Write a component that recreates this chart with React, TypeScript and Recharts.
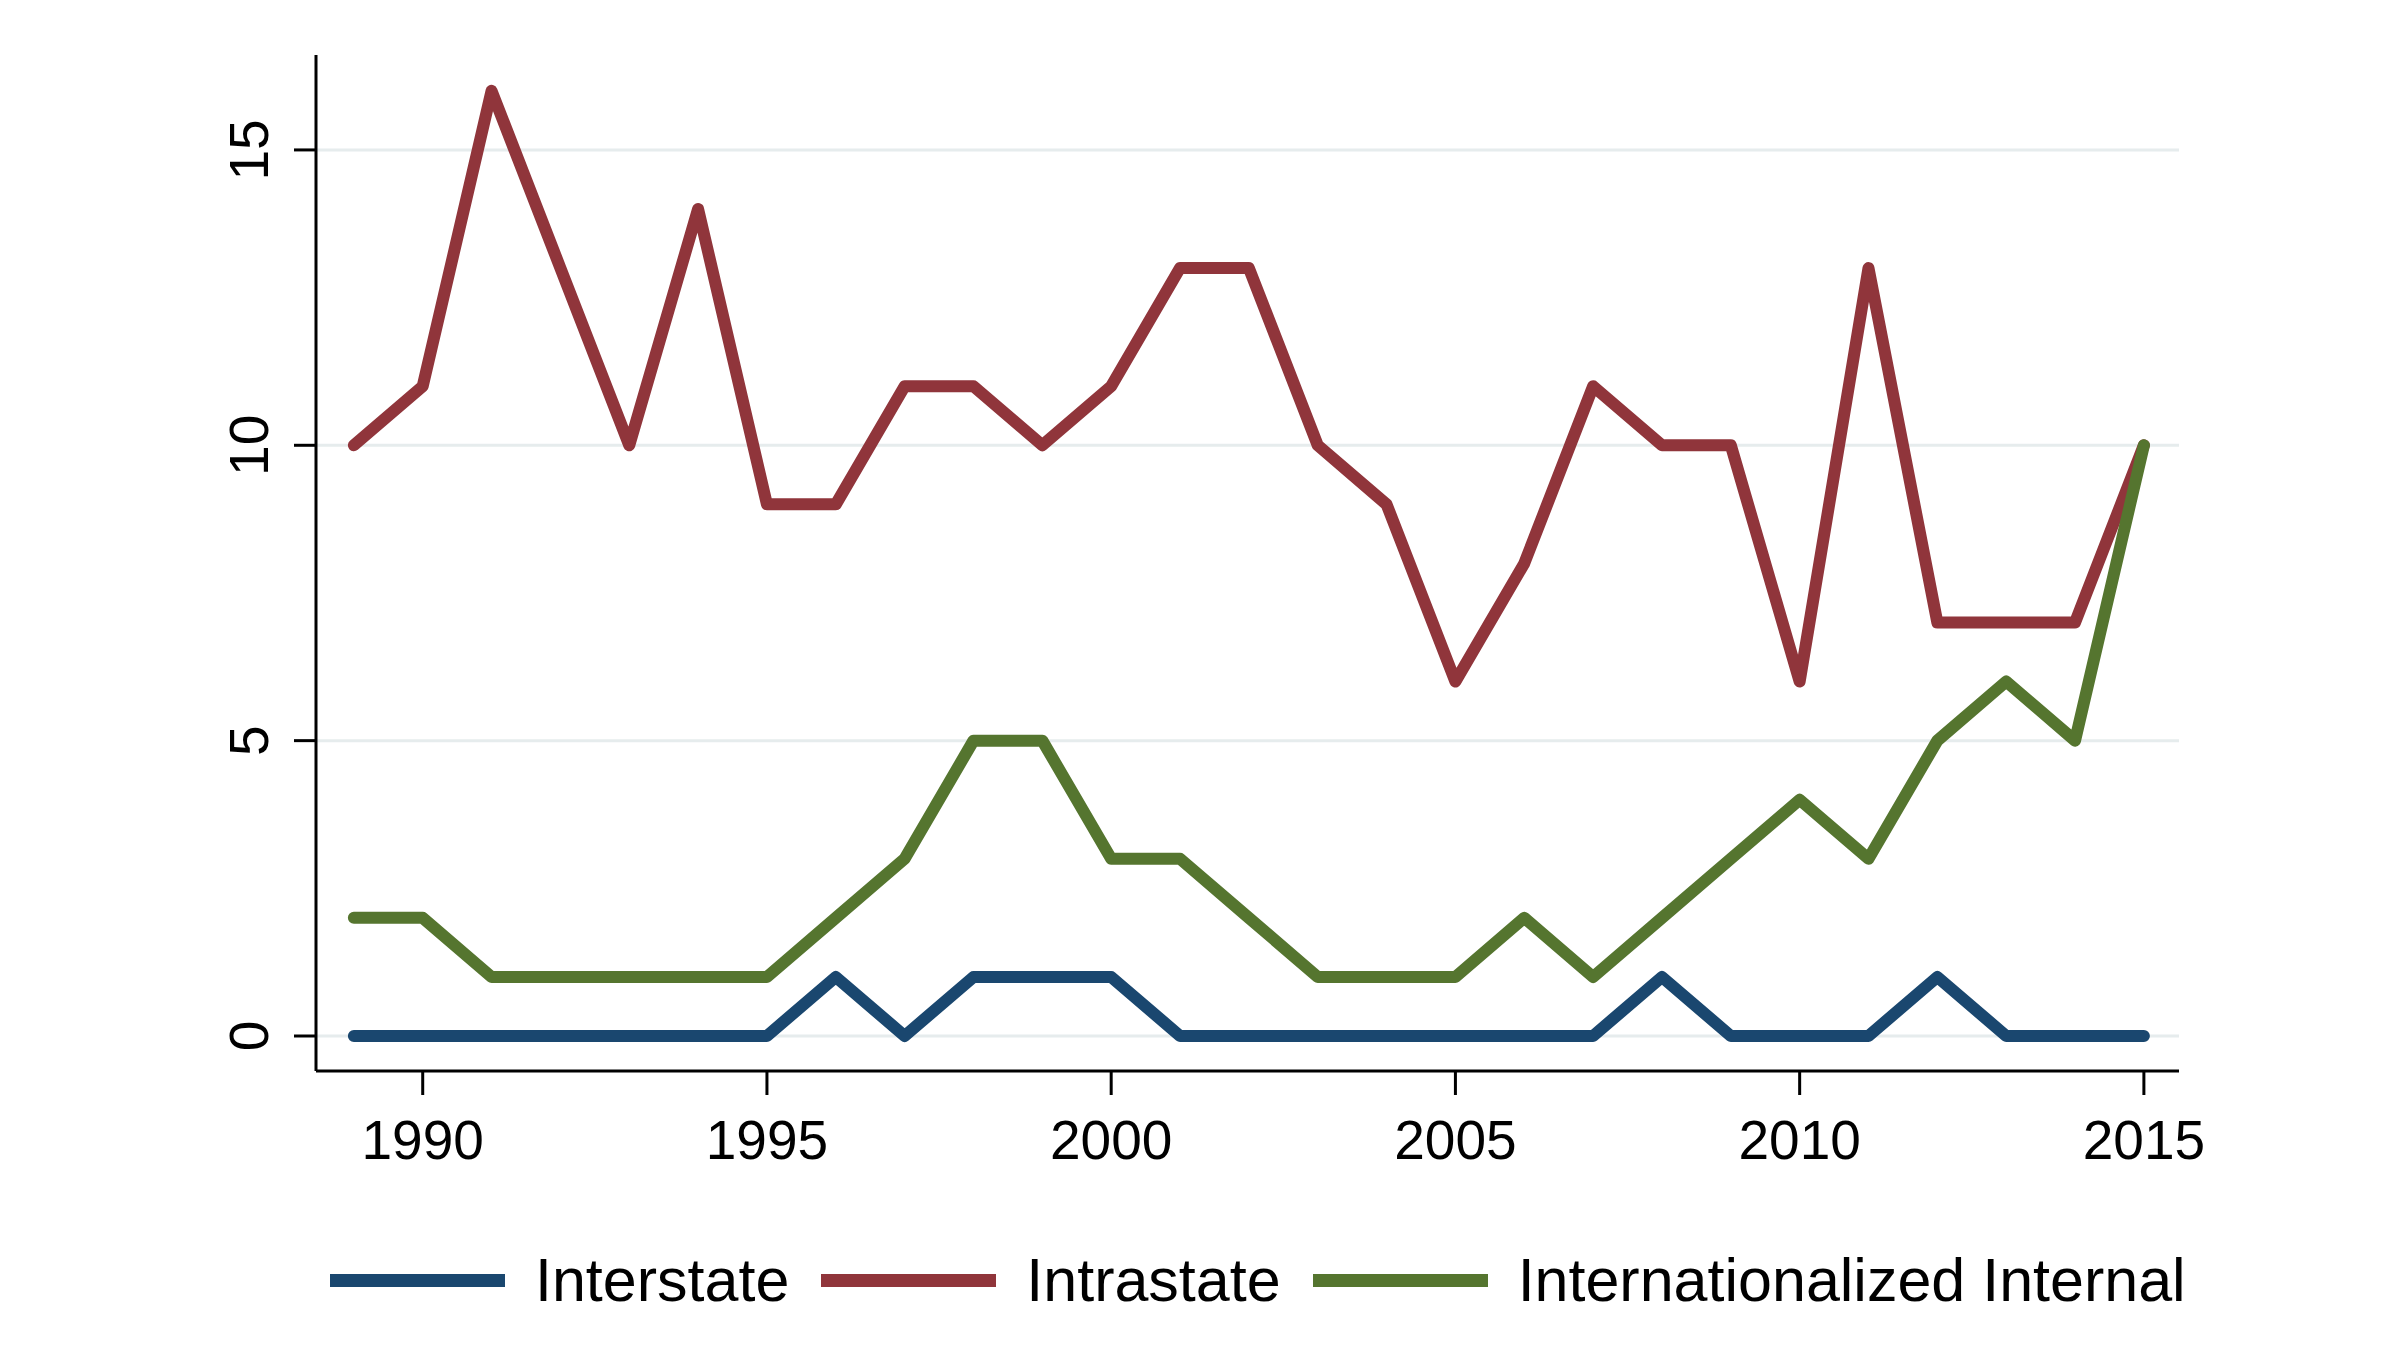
import { Legend, Line, LineChart, ReferenceLine, XAxis, YAxis } from "recharts";

const YEARS = [
  1989, 1990, 1991, 1992, 1993, 1994, 1995, 1996, 1997, 1998, 1999, 2000, 2001, 2002,
  2003, 2004, 2005, 2006, 2007, 2008, 2009, 2010, 2011, 2012, 2013, 2014, 2015,
];
const INTERSTATE = [0, 0, 0, 0, 0, 0, 0, 1, 0, 1, 1, 1, 0, 0, 0, 0, 0, 0, 0, 1, 0, 0, 0, 1, 0, 0, 0];
const INTRASTATE = [10, 11, 16, 13, 10, 14, 9, 9, 11, 11, 10, 11, 13, 13, 10, 9, 6, 8, 11, 10, 10, 6, 13, 7, 7, 7, 10];
const INTERNATIONALIZED = [2, 2, 1, 1, 1, 1, 1, 2, 3, 5, 5, 3, 3, 2, 1, 1, 1, 2, 1, 2, 3, 4, 3, 5, 6, 5, 10];

const X_TICKS = [1990, 1995, 2000, 2005, 2010, 2015];
const Y_TICKS = [0, 5, 10, 15];

const SERIES = [
  { key: "interstate", name: "Interstate", color: "#1a476f" },
  { key: "intrastate", name: "Intrastate", color: "#90353b" },
  { key: "internationalized", name: "Internationalized Internal", color: "#55752f" },
];

const FONT = "'Liberation Sans', Arial, sans-serif";

const data = YEARS.map((year, i) => ({
  year,
  interstate: INTERSTATE[i],
  intrastate: INTRASTATE[i],
  internationalized: INTERNATIONALIZED[i],
}));

function XTick({ x, y, payload }: any) {
  return (
    <text x={x} y={y + 64} textAnchor="middle" fontSize={55} fontFamily={FONT} fill="#000">
      {payload.value}
    </text>
  );
}

function YTick({ x, y, payload }: any) {
  return (
    <text
      x={x}
      y={y}
      transform={`rotate(-90, ${x}, ${y})`}
      textAnchor="middle"
      fontSize={55}
      fontFamily={FONT}
      fill="#000"
    >
      {payload.value}
    </text>
  );
}

function LegendContent() {
  return (
    <div
      style={{
        height: 100,
        width: 2400,
        display: "flex",
        alignItems: "center",
        paddingLeft: 330,
        boxSizing: "border-box",
        fontFamily: FONT,
        fontSize: 61,
        color: "#000",
        whiteSpace: "nowrap",
      }}
    >
      {SERIES.map((s, i) => (
        <div key={s.key} style={{ display: "flex", alignItems: "center", flexShrink: 0, marginLeft: i === 0 ? 0 : 32 }}>
          <div style={{ width: 175, height: 13, background: s.color }} />
          <span style={{ marginLeft: 30, lineHeight: 1 }}>{s.name}</span>
        </div>
      ))}
    </div>
  );
}

export default function App() {
  return (
    <div style={{ position: "absolute", left: 0, top: 0, width: 2400, height: 1350, background: "#fff" }}>
      <LineChart width={2400} height={1350} data={data} margin={{ top: 55, right: 221, left: 0, bottom: 20 }}>
        <XAxis
          dataKey="year"
          type="number"
          domain={[1988.45, 2015.51]}
          ticks={X_TICKS}
          allowDataOverflow
          height={159}
          tickSize={24}
          tickMargin={0}
          tick={<XTick />}
          axisLine={{ stroke: "#000", strokeWidth: 3 }}
          tickLine={{ stroke: "#000", strokeWidth: 3 }}
        />
        <YAxis
          type="number"
          domain={[-0.5925, 16.607]}
          ticks={Y_TICKS}
          allowDataOverflow
          width={316}
          tickSize={22}
          tickMargin={26}
          tick={<YTick />}
          axisLine={{ stroke: "#000", strokeWidth: 3 }}
          tickLine={{ stroke: "#000", strokeWidth: 3 }}
        />
        {Y_TICKS.map((t) => (
          <ReferenceLine key={t} y={t} stroke="#e6eced" strokeWidth={3} />
        ))}
        <Legend verticalAlign="bottom" wrapperStyle={{ left: 0, width: 2400 }} content={<LegendContent />} />
        {SERIES.map((s) => (
          <Line
            key={s.key}
            type="linear"
            dataKey={s.key}
            name={s.name}
            stroke={s.color}
            strokeWidth={12}
            strokeLinejoin="round"
            strokeLinecap="round"
            dot={false}
            isAnimationActive={false}
          />
        ))}
      </LineChart>
    </div>
  );
}
